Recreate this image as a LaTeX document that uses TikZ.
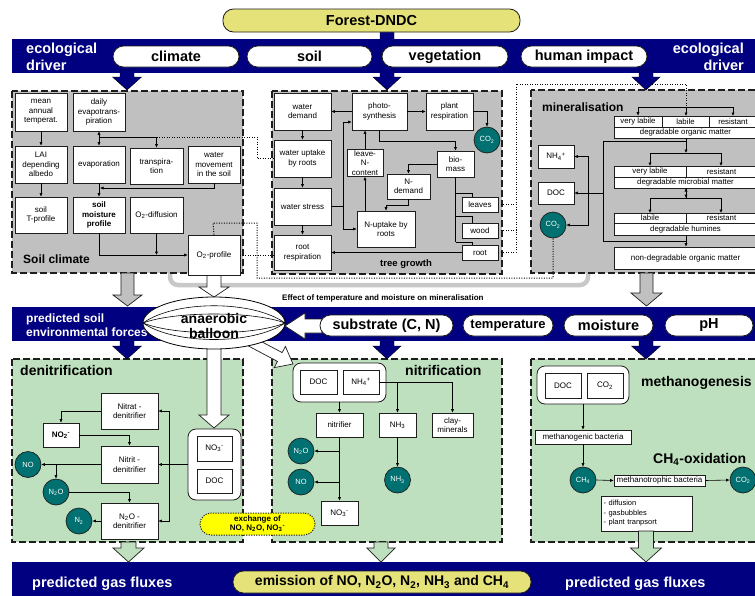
\documentclass[tikz,border=0pt]{standalone}
\usepackage{fontspec}
\setmainfont{Liberation Sans}
\usetikzlibrary{arrows.meta}
\definecolor{navyb}{RGB}{0,0,128}
\definecolor{boxgrey}{RGB}{192,192,192}
\definecolor{boxgreen}{RGB}{190,224,190}
\definecolor{tealc}{RGB}{0,112,112}
\definecolor{ypill}{RGB}{230,226,122}
\definecolor{ybright}{RGB}{255,255,0}
\definecolor{edge}{RGB}{30,30,30}
\definecolor{loopgrey}{RGB}{200,200,200}
\newcommand\mkbox[7][]{%
 \pgfmathsetmacro\cxx{(#3+#5)/2}\pgfmathsetmacro\cyy{(#4+#6)/2}%
 \pgfmathsetmacro\www{#5-#3}\pgfmathsetmacro\hhh{#6-#4}%
 \node[bx,minimum width=\www pt,minimum height=\hhh pt,#1] (#2) at (\cxx,\cyy) {#7};}
\newcommand\vblk[7]{\draw[#1] ({#2-#6},#3) -- ({#2+#6},#3) -- ({#2+#6},#4) -- ({#2+#7},#4) -- (#2,#5) -- ({#2-#7},#4) -- ({#2-#6},#4) -- cycle;}
\begin{document}
\begin{tikzpicture}[x=1pt,y=-1pt,
 bx/.style={draw=edge,fill=white,line width=0.7pt,inner sep=1pt,align=center,font=\fontsize{8}{9.5}\selectfont},
 cell/.style={inner sep=0.3pt,font=\fontsize{7.8}{9}\selectfont},
 gas/.style={circle,draw=edge,line width=0.7pt,fill=tealc,text=white,minimum size=26pt,inner sep=0pt,font=\fontsize{7.5}{9}\selectfont},
 arr/.style={-{Latex[length=3.5pt,width=3.2pt]},line width=0.6pt},
 ln/.style={line width=0.6pt},
 dotl/.style={line width=1pt,dash pattern=on 1.1pt off 1.4pt},
 zone/.style={draw=edge,line width=1.3pt,dash pattern=on 7pt off 3pt},
 pill/.style={draw=edge,fill=white,line width=0.8pt,rounded corners=10.5pt,inner sep=0pt,font=\bfseries\fontsize{14.5}{16}\selectfont},
 bandtxt/.style={text=white,inner sep=0pt,font=\bfseries\fontsize{14.5}{16}\selectfont},
 ttl/.style={inner sep=0pt,font=\bfseries\fontsize{14}{16}\selectfont},
 blk/.style={draw=edge,line width=0.7pt}]
\useasboundingbox (0,0) rectangle (755,595);
\fill[white] (0,0) rectangle (755,595);
% grey loop (effect of temperature and moisture)
\draw[line width=4.5pt,draw=loopgrey,rounded corners=8pt] (170,268) -- (170,285) -- (588,285) -- (588,268);
% bands
\fill[navyb] (12,39) rectangle (757,73);
\fill[navyb] (12,307) rectangle (757,341);
\fill[navyb] (12,562) rectangle (757,597);
% zones
\draw[zone,fill=boxgrey] (12,91) rectangle (243,273);
\draw[zone,fill=boxgrey] (272,91) rectangle (502,274);
\draw[zone,fill=boxgrey] (531,90) rectangle (765,273);
\draw[zone,fill=boxgreen] (12,359) rectangle (243,542);
\draw[zone,fill=boxgreen] (272,359) rectangle (502,542);
\draw[zone,fill=boxgreen] (531,359) rectangle (765,542);
% ---- soil climate nodes
\mkbox{mat}{15}{93}{67}{131}{mean\\annual\\temperat.}
\mkbox{dev}{73}{93}{125}{131}{daily\\evapotrans-\\piration}
\mkbox{lai}{15}{146}{67}{183}{LAI\\depending\\albedo}
\mkbox{evp}{73}{146}{125}{183}{evaporation}
\mkbox{trp}{130}{148}{183}{184}{transpira-\\tion}
\mkbox{wmv}{188}{146}{240}{183}{water\\movement\\in the soil}
\mkbox{stp}{15}{197}{67}{233}{soil\\T-profile}
\mkbox[font=\bfseries\fontsize{8}{9.5}\selectfont]{smp}{73}{197}{125}{233}{soil\\moisture\\profile}
\mkbox{o2d}{130}{197}{183}{233}{O\textsubscript{2}-diffusion}
\mkbox{o2p}{188}{235}{240}{275}{O\textsubscript{2}-profile}
\node[anchor=base west,inner sep=0pt,font=\bfseries\fontsize{12}{14}\selectfont] (sclab) at (23,263) {Soil climate};
% ---- tree growth nodes
\mkbox{wd}{274}{93}{331}{130}{water\\demand}
\mkbox{ps}{352}{93}{407}{130}{photo-\\synthesis}
\mkbox{pr}{426}{93}{473}{130}{plant\\respiration}
\node[gas] (co2t) at (487,140) {CO\textsubscript{2}};
\mkbox{wup}{274}{140}{331}{177}{water uptake\\by roots}
\mkbox{wst}{274}{188}{331}{225}{water stress}
\mkbox{rresp}{274}{235}{331}{270}{root\\respiration}
\mkbox{lnc}{347}{150}{383}{176}{leave-\\N-\\content}
\mkbox{nup}{357}{211}{415}{247}{N-uptake by\\roots}
\mkbox{bm}{437}{151}{474}{177}{bio-\\mass}
\mkbox{nd}{387}{174}{430}{199}{N-\\demand}
\mkbox{lv}{462}{197}{498}{212}{leaves}
\mkbox{wo}{462}{223}{498}{238}{wood}
\mkbox{rt}{462}{245}{498}{260}{root}
\node[anchor=base west,inner sep=0pt,font=\bfseries\fontsize{9.5}{11}\selectfont] (tglab) at (380,266) {tree growth};
% ---- mineralisation nodes
\node[anchor=base west,inner sep=0pt,font=\bfseries\fontsize{12}{14}\selectfont] (mnlab) at (542,111) {mineralisation};
\mkbox[cell]{ovl}{614}{116}{662}{127}{very labile}
\mkbox[cell]{olb}{662}{116}{709}{127}{labile}
\mkbox[cell]{ors}{709}{116}{757}{127}{resistant}
\mkbox[cell]{odm}{614}{127}{757}{138}{degradable organic matter}
\mkbox[cell]{mvl}{614}{166}{686}{177}{very labile}
\mkbox[cell]{mrs}{686}{166}{757}{177}{resistant}
\mkbox[cell]{mdm}{614}{177}{757}{188}{degradable microbial matter}
\mkbox[cell]{hlb}{614}{213}{686}{223}{labile}
\mkbox[cell]{hrs}{686}{213}{757}{223}{resistant}
\mkbox[cell]{hdm}{614}{223}{757}{235}{degradable humines}
\mkbox{ndm}{614}{247}{757}{269}{non-degradable organic matter}
\mkbox{nh4m}{538}{145}{574}{168}{NH\textsubscript{4}\textsuperscript{+}}
\mkbox{docm}{538}{182}{574}{204}{DOC}
\node[gas] (co2m) at (553,225) {CO\textsubscript{2}};
% ---- dotted links
\draw[dotl] (156.5,137) -- (257,137) -- (257,158.5) -- (wup.west);
\draw[dotl] (o2p.north) -- (213,223) -- (257,223) -- (257,278) -- (553,278) -- (co2m.south);
\draw[dotl] (o2p.east) -- (o2p.east -| rresp.west);
\draw[dotl] (lv.east) -- (516,204.5);
\draw[dotl] (wo.east) -- (516,230.5);
\draw[dotl] (rt.east) -- (516,252.5) -- (516,84) -- (686,84) -- (686,107);
% ---- blue arrows band 1
\vblk{fill=navyb}{127}{70}{77}{90}{7}{14.5}
\vblk{fill=navyb}{387}{31}{77}{90}{7}{14}
\vblk{fill=navyb}{646}{70}{77}{90}{7}{14}
% ---- pills band 1
\node[pill,fill=ypill,minimum width=297pt,minimum height=23pt] (fdndc) at (371.5,20.5) {Forest-DNDC};
\node[pill,minimum width=126pt,minimum height=21pt] (pclim) at (176,56.5) {climate};
\node[pill,minimum width=125pt,minimum height=21pt] (psoil) at (309.5,56.5) {soil};
\node[pill,minimum width=126pt,minimum height=21pt] (pveg) at (445,56.5) {vegetation};
\node[pill,minimum width=126pt,minimum height=21pt] (phum) at (584,56.5) {human impact};
\node[bandtxt,anchor=base west] (ed1) at (26,53) {ecological};
\node[bandtxt,anchor=base west] (ed2) at (26,70) {driver};
\node[bandtxt,anchor=base east] (ed3) at (744,53) {ecological};
\node[bandtxt,anchor=base east] (ed4) at (744,70) {driver};
% ---- soil climate connectors
\coordinate (j1) at (99,137);
\draw[arr] (mat) -- (lai);
\draw[arr] (lai) -- (stp);
\draw[arr] (j1) -- (dev.south);
\draw[arr] (j1) -- (evp.north);
\draw[arr] (j1) -| (trp.north);
\draw[arr] (evp) -- (smp);
\draw[arr] (wmv.south) |- (100,188);
\draw[arr] (smp.south) |- (o2p.west);
\draw[arr] (o2d.south) -- (o2d.south |- o2p.west);
% ---- tree growth connectors
\coordinate (wj) at (343,206.5);
\draw[arr] (ps) -- (wd);
\draw[arr] (ps) -- (pr);
\draw[arr] (pr.east) -| (co2t.north);
\draw[arr] (wd) -- (wup);
\draw[arr] (wup) -- (wst);
\draw[arr] (wst) -- (rresp);
\draw[ln] (wst.east) -- (wj);
\draw[arr] (wj) |- ([yshift=-10.5pt]ps.west);
\draw[arr] (wj) |- (nup.west);
\draw[arr] (lnc.north) -- (lnc.north |- ps.south);
\draw[arr] (lnc.south |- nup.north) -- (lnc.south);
\draw[arr] (ps.south) -- ++(0,11) -| (bm.north);
\draw[arr] (bm.west) -| (nd.north);
\draw[arr] (nd.south) -- ++(0,6) -| (nup.north);
\draw[ln] (bm.south) -- (455.5,242);
\draw[ln] (455.5,193) -| ([xshift=-8pt]lv.north);
\draw[ln] (455.5,216) -| ([xshift=-8pt]wo.north);
\draw[ln] (455.5,242) -| ([xshift=-8pt]rt.north);
\draw[arr] (rt.west) -- (rt.west -| rresp.east);
% ---- mineralisation connectors
\draw[ln] (638,107) -- (733,107);
\draw[arr] (638,107) -- (ovl.north);
\draw[arr] (686,107) -- (686,116);
\draw[arr] (733,107) -- (733,116);
\draw[arr] (686,138) -- (686,153);
\draw[arr] (686,153) -| (650,166);
\draw[arr] (686,153) -| (721,166);
\draw[arr] (686,198) -- (686,188);
\draw[arr] (686,188) -- (686,198);
\draw[arr] (686,198) -| (650,213);
\draw[arr] (686,198) -| (721,213);
\draw[ln] (686,141) -| (603,241) -- (686,241);
\draw[arr] (686,235) -- (ndm.north -| 686,0);
\draw[arr] (603,193) -- (docm.east);
\draw[arr] (588,193) |- (nh4m.east);
\draw[arr] (588,193) |- (co2m.east);
% ---- band 2
\node[anchor=base west,inner sep=0pt,font=\bfseries\fontsize{8}{9}\selectfont] (eff) at (282,300) {Effect of temperature and moisture on mineralisation};
\node[bandtxt,anchor=base west,font=\bfseries\fontsize{12}{14}\selectfont] (ps1) at (26,322) {predicted soil};
\node[bandtxt,anchor=base west,font=\bfseries\fontsize{12}{14}\selectfont] (ps2) at (26,336) {environmental forces};
\vblk{fill=navyb}{127}{338}{346}{359}{7}{14.5}
\vblk{fill=navyb}{387}{338}{346}{359}{7}{14}
\vblk{fill=navyb}{646}{338}{346}{359}{7}{14.5}
% grey and white arrows from upper boxes
\vblk{blk,fill=boxgrey}{127.5}{273}{295}{306}{6.5}{14.5}
\vblk{blk,fill=boxgrey}{646.5}{273}{293}{306}{6.5}{15.5}
\vblk{blk,fill=white}{214}{275.5}{287}{297}{7}{15}
\vblk{blk,fill=white}{214}{345}{415}{428}{7}{15}
\draw[blk,fill=white] (322,319) -- (305,319) -- (305,313) -- (285,326) -- (305,339) -- (305,333) -- (322,333) -- cycle;
\draw[blk,fill=white] (247.35,334.1) -- (282.15,352.6) -- (285.4,346.4) -- (293,364) -- (274.2,367.6) -- (277.45,361.4) -- (242.65,342.9) -- cycle;
\node[pill,minimum width=133pt,minimum height=21pt] (psub) at (386.5,325.5) {substrate (C, N)};
\node[pill,minimum width=90pt,minimum height=21pt,font=\bfseries\fontsize{13}{15}\selectfont] (ptemp) at (508,325.5) {temperature};
\node[pill,minimum width=89pt,minimum height=21pt] (pmois) at (608.5,325.5) {moisture};
\node[pill,minimum width=88pt,minimum height=21pt] (pph) at (709,325.5) {pH};
% balloon
\draw[fill=white,line width=0.8pt] (214,323) ellipse [x radius=71, y radius=26];
\draw[line width=0.6pt] (143,323) .. controls (175,300) and (253,300) .. (285,323);
\draw[line width=0.6pt] (143,323) .. controls (175,311) and (253,311) .. (285,323);
\draw[line width=0.6pt] (143,323) .. controls (175,336) and (253,336) .. (285,323);
\draw[line width=0.6pt] (143,323) .. controls (175,345) and (253,345) .. (285,323);
\node[ttl,anchor=base] (bal1) at (214,323) {anaerobic};
\node[ttl,anchor=base] (bal2) at (214,338) {balloon};
% ---- denitrification
\node[ttl,anchor=base west] (dnlab) at (20,375) {denitrification};
\mkbox{nit}{101}{393}{158}{429}{Nitrat -\\denitrifier}
\mkbox[font=\bfseries\fontsize{8}{9.5}\selectfont]{no2}{43}{423}{79}{447}{NO\textsubscript{2}\textsuperscript{-}}
\mkbox{ntd}{101}{446}{158}{483}{Nitrit -\\denitrifier}
\mkbox{n2dn}{101}{503}{158}{539}{N\textsubscript{2}O -\\denitrifier}
\node[gas] (nod) at (28,464.5) {NO};
\node[gas] (n2od) at (56,492) {N\textsubscript{2}O};
\node[gas] (n2c) at (79,521) {N\textsubscript{2}};
\mkbox[rounded corners=8pt,line width=0.8pt]{nbox}{188}{429}{241}{500}{}
\mkbox{no3d}{197}{436}{232}{461}{NO\textsubscript{3}\textsuperscript{-}}
\mkbox{docd}{197}{469}{232}{493}{DOC}
\coordinate (dj) at (169,464.5);
\draw[arr] (nit.west) -| (no2.north);
\draw[arr] (no2.east) -| (ntd.north);
\draw[arr] (ntd.west) -- (nod.east);
\draw[arr] (56,464.5) -- (n2od.north);
\draw[arr] (n2od.east) -| (n2dn.north);
\draw[arr] (n2dn.west) -- (n2c.east);
\draw[arr] (nbox.west) -- (ntd.east);
\draw[arr] (dj) |- (nit.east);
\draw[arr] (dj) |- (n2dn.east);
\node[draw=edge,fill=ybright,line width=1pt,dash pattern=on 1.1pt off 1.4pt,rounded corners=11pt,minimum width=115pt,minimum height=22pt,inner sep=0pt,align=center,font=\bfseries\fontsize{8}{8.8}\selectfont] (exch) at (257.5,524) {exchange of\\NO, N\textsubscript{2}O, NO\textsubscript{3}\textsuperscript{-}};
% ---- nitrification
\node[ttl,anchor=base west] (ntlab) at (405,375) {nitrification};
\mkbox[rounded corners=8pt,line width=0.8pt]{sbox}{293}{363}{386}{402}{}
\mkbox{docn}{300}{370}{337}{394}{DOC}
\mkbox{nh4n}{343}{370}{379}{394}{NH\textsubscript{4}\textsuperscript{+}}
\mkbox{nitr}{316}{413}{363}{437}{nitrifier}
\mkbox{nh3b}{379}{413}{416}{437}{NH\textsubscript{3}}
\mkbox{cm}{432}{413}{473}{437}{clay-\\minerals}
\mkbox{no3n}{321}{501}{358}{525}{NO\textsubscript{3}\textsuperscript{-}}
\node[gas] (n2on) at (301,451) {N\textsubscript{2}O};
\node[gas] (non) at (301,482) {NO};
\node[gas] (nh3c) at (397.5,480) {NH\textsubscript{3}};
\draw[arr] (nh4n.east) -| (cm.north);
\draw[arr] (nh3b.north |- nh4n.east) -- (nh3b.north);
\draw[arr] (sbox.south) -- (nitr.north);
\draw[arr] (nitr.south) -- (no3n.north -| nitr.south);
\draw[arr] (339.5,451) -- (n2on.east);
\draw[arr] (339.5,482) -- (non.east);
\draw[arr] (nh3b.south) -- (nh3c.north);
% ---- methanogenesis
\node[ttl,anchor=base west] (mglab) at (641,386) {methanogenesis};
\mkbox[rounded corners=8pt,line width=0.8pt]{mbox}{537}{366}{629}{404}{}
\mkbox{docme}{545}{373}{581}{398}{DOC}
\mkbox{co2me}{587}{373}{623}{398}{CO\textsubscript{2}}
\mkbox{mgb}{535}{430}{631}{444}{methanogenic bacteria}
\node[gas] (ch4) at (583,480) {CH\textsubscript{4}};
\node[ttl,anchor=base west] (oxlab) at (653,463) {CH\textsubscript{4}-oxidation};
\mkbox{mtb}{614}{475}{705}{486}{methanotrophic bacteria}
\node[gas] (co2c) at (743,480) {CO\textsubscript{2}};
\mkbox[text width=86pt,align=left,inner sep=2pt,font=\fontsize{7.5}{9.5}\selectfont]{dif}{601}{496}{692}{531}{- diffusion\\- gasbubbles\\- plant tranpsort}
\draw[arr] (mbox.south) -- (mgb.north);
\draw[arr] (mgb.south) -- (ch4.north);
\draw[arr] (ch4.east) -- (mtb.west);
\draw[arr] (mtb.east) -- (co2c.west);
% ---- green arrows
\vblk{blk,fill=boxgreen}{128.5}{542}{548}{562}{7.5}{15.5}
\vblk{blk,fill=boxgreen}{381}{542}{548}{562}{7}{14}
\vblk{blk,fill=boxgreen}{646}{531}{548}{562}{7.5}{15.5}
% ---- band 3
\node[bandtxt,anchor=base west] (pg1) at (32,587) {predicted gas fluxes};
\node[bandtxt,anchor=base west] (pg2) at (565,587) {predicted gas fluxes};
\node[pill,fill=ypill,minimum width=298pt,minimum height=22pt,font=\bfseries\fontsize{14}{16}\selectfont] (emis) at (382,582) {emission of NO, N\textsubscript{2}O, N\textsubscript{2}, NH\textsubscript{3} and CH\textsubscript{4}};
\end{tikzpicture}
\end{document}
